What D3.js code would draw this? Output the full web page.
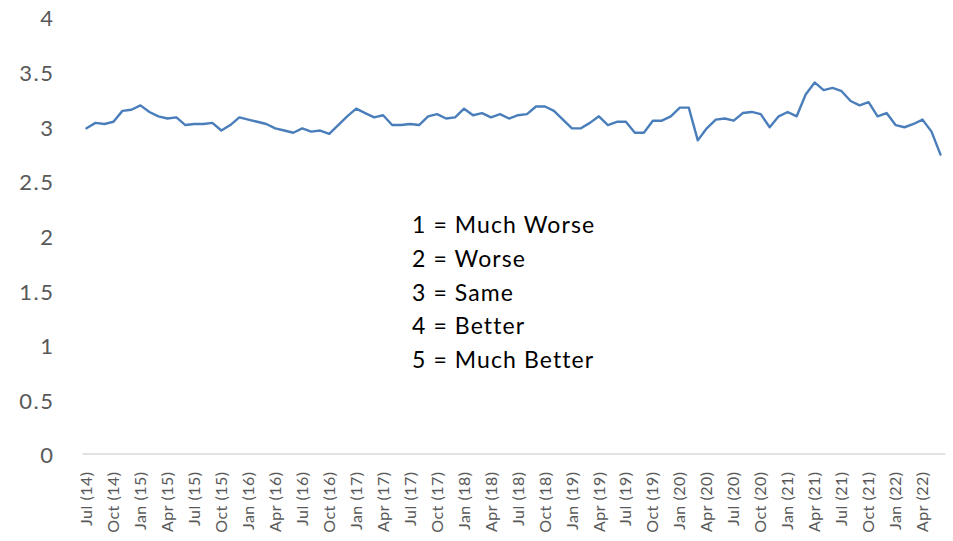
<!DOCTYPE html>
<html>
<head>
<meta charset="utf-8">
<script src="https://cdn.jsdelivr.net/npm/d3@7/dist/d3.min.js"></script>
<style>
  html, body { margin: 0; padding: 0; background: #fff; }
  svg { display: block; }
</style>
</head>
<body>
<svg id="chart" width="953" height="541"></svg>
<script>
const months = ["Jan","Feb","Mar","Apr","May","Jun","Jul","Aug","Sep","Oct","Nov","Dec"];
const years = ["14","15","16","17","18","19","20","21","22"];
const values = [
  2.99, 3.04, 3.03, 3.05, 3.15, 3.16,
  3.20, 3.14, 3.10, 3.08, 3.09, 3.02, 3.03, 3.03, 3.04, 2.97, 3.02, 3.09,
  3.07, 3.05, 3.03, 2.99, 2.97, 2.95, 2.99, 2.96, 2.97, 2.94, 3.02, 3.10,
  3.17, 3.13, 3.09, 3.11, 3.02, 3.02, 3.03, 3.02, 3.10, 3.12, 3.08, 3.09,
  3.17, 3.11, 3.13, 3.09, 3.12, 3.08, 3.11, 3.12, 3.19, 3.19, 3.15, 3.07,
  2.99, 2.99, 3.04, 3.10, 3.02, 3.05, 3.05, 2.95, 2.95, 3.06, 3.06, 3.10,
  3.18, 3.18, 2.88, 2.99, 3.07, 3.08, 3.06, 3.13, 3.14, 3.12, 3.00, 3.10,
  3.14, 3.10, 3.30, 3.41, 3.34, 3.36, 3.33, 3.24, 3.20, 3.23, 3.10, 3.13,
  3.02, 3.00, 3.03, 3.07, 2.96, 2.75
];
const yTicks = [0, 0.5, 1, 1.5, 2, 2.5, 3, 3.5, 4];
const legendLines = ["1 = Much Worse", "2 = Worse", "3 = Same", "4 = Better", "5 = Much Better"];

// Build category labels: Jul (14) .. Jun (22)
const categories = [];
let mi = 6, yi = 0;
for (let i = 0; i < values.length; i++) {
  categories.push(months[mi] + " (" + years[yi] + ")");
  mi++; if (mi === 12) { mi = 0; yi++; }
}
const data = categories.map((c, i) => ({ cat: c, v: values[i] }));

const svg = d3.select("#chart");
const plotLeft = 82, plotRight = 945, plotTop = 18, plotBottom = 455;

const x = d3.scaleBand().domain(categories).range([plotLeft, plotRight]).padding(0);
const y = d3.scaleLinear().domain([0, 4]).range([plotBottom, plotTop]);

// Y axis labels (no line)
const yAxis = d3.axisLeft(y).tickValues(yTicks).tickSize(0).tickPadding(0)
  .tickFormat(d => String(d));
const gy = svg.append("g").attr("transform", "translate(54.5,0)").call(yAxis);
gy.select(".domain").remove();
gy.selectAll("text")
  .attr("fill", "#595959")
  .style("font-family", "Lato, 'Open Sans', sans-serif")
  .style("font-size", "22px")
  .style("letter-spacing", "1.5px")
  .attr("dy", "0.36em");

// X axis
const xAxis = d3.axisBottom(x)
  .tickValues(categories.filter((c, i) => i % 3 === 0))
  .tickSize(0).tickPadding(0);
const gx = svg.append("g").attr("transform", `translate(0,${plotBottom - 1.5})`).call(xAxis);
gx.select(".domain").attr("stroke", "#d9d9d9").attr("stroke-width", 1.3);
gx.selectAll("text")
  .attr("fill", "#595959")
  .style("font-family", "Lato, 'Open Sans', sans-serif")
  .style("font-size", "16px")
  .style("letter-spacing", "0.5px")
  .attr("text-anchor", "end")
  .attr("transform", "rotate(-90)")
  .attr("x", -18)
  .attr("y", 0)
  .attr("dy", "0.35em");

// Line
const line = d3.line()
  .x(d => x(d.cat) + x.bandwidth() / 2)
  .y(d => y(d.v));
svg.append("path")
  .datum(data)
  .attr("fill", "none")
  .attr("stroke", "#4a7ebb")
  .attr("stroke-width", 2.4)
  .attr("stroke-linejoin", "round")
  .attr("stroke-linecap", "round")
  .attr("d", line);

// Legend text
svg.append("g").selectAll("text")
  .data(legendLines)
  .join("text")
  .attr("x", 412)
  .attr("y", (d, i) => 233 + i * 33.8)
  .attr("fill", "#000")
  .style("font-family", "Lato, 'Open Sans', sans-serif")
  .style("font-size", "23px")
  .style("letter-spacing", "1.1px")
  .text(d => d);
</script>
</body>
</html>
